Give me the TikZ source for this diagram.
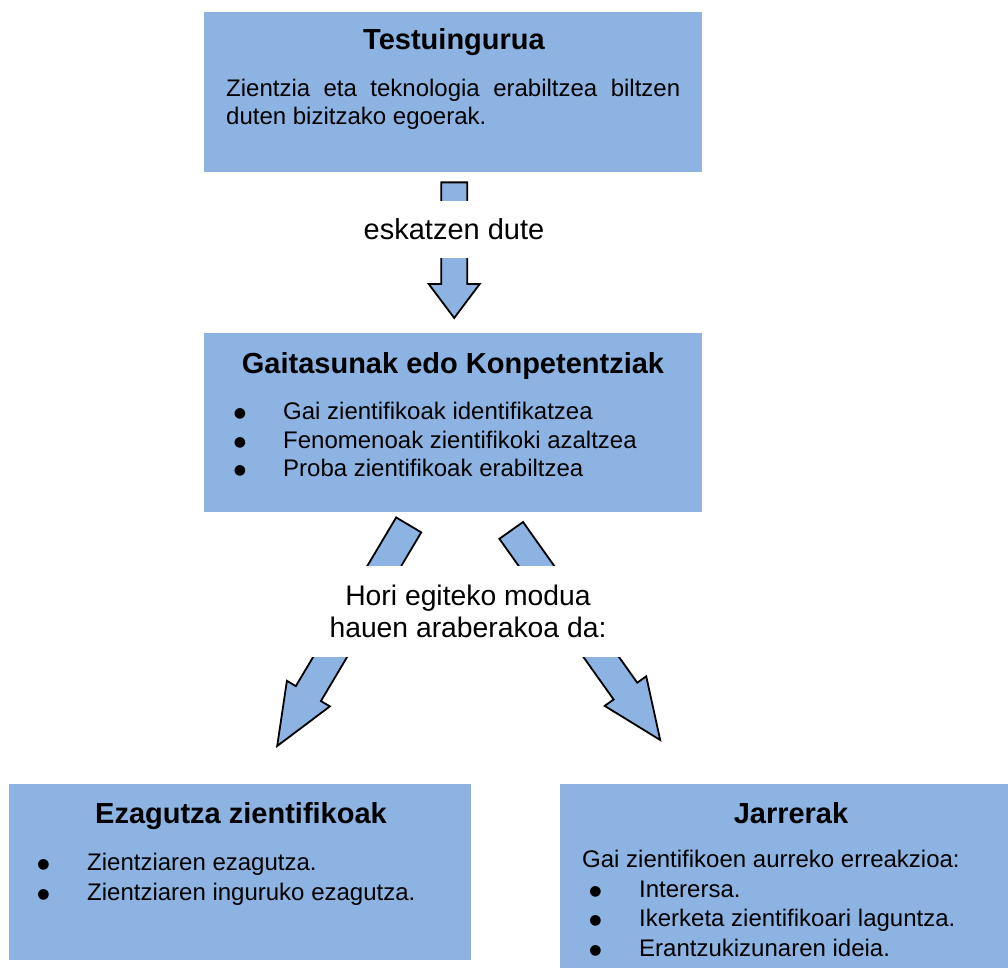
\documentclass[tikz,border=0pt]{standalone}
\usepackage{fontspec}
\setmainfont{Liberation Sans}
\newfontfamily\symfont{DejaVu Sans}
\usetikzlibrary{calc}
\definecolor{boxblue}{HTML}{8DB3E2}
% block arrow: tail, tip, half shaft width, half head width, head length
\newcommand{\blockarrow}[5]{%
  \coordinate (ab) at ($(#2)!#5!(#1)$);
  \draw[arrowshape] ($(#1)!#3!90:(#2)$) -- ($(ab)!#3!-90:(#1)$) -- ($(ab)!#4!-90:(#1)$) -- (#2)
     -- ($(ab)!#4!90:(#1)$) -- ($(ab)!#3!90:(#1)$) -- ($(#1)!#3!-90:(#2)$) -- cycle;}
\newcommand{\bul}{\raisebox{2pt}{●}}
\begin{document}
\begin{tikzpicture}[x=1pt,y=-1pt,
  box/.style={fill=boxblue, draw=none, inner sep=0pt, anchor=north west},
  titletext/.style={font=\fontsize{29}{34}\selectfont\bfseries, inner sep=0pt, anchor=base},
  bodytext/.style={font=\fontsize{24}{28}\selectfont, inner sep=0pt, anchor=base west},
  bulletmark/.style={font=\symfont\fontsize{14}{16}\selectfont, inner sep=0pt, anchor=base},
  labeltext/.style={fill=white, inner sep=0pt, align=center},
  arrowshape/.style={fill=boxblue, draw=black, line width=1.8pt, line join=miter}]
\useasboundingbox (0,0) rectangle (1008,968);

% boxes
\node[box, minimum width=498pt, minimum height=160pt] (ctx) at (204,12) {};
\node[box, minimum width=498pt, minimum height=179pt] (comp) at (204,333) {};
\node[box, minimum width=462pt, minimum height=176pt] (know) at (9,784) {};
\node[box, minimum width=448pt, minimum height=184pt] (att) at (560,784) {};

% top box text
\node[titletext] (ctxT) at (454,50) {Testuingurua};
\node[bodytext] (ctxL1) at (226,97) {\hbox to 454pt{Zientzia\hfill eta\hfill teknologia\hfill erabiltzea\hfill biltzen}};
\node[bodytext] (ctxL2) at (226,124.5) {duten bizitzako egoerak.};

% middle box text
\node[titletext] (compT) at (453,373) {Gaitasunak edo Konpetentziak};
\node[bulletmark] (cb1) at (240,419) {\bul};
\node[bodytext] (c1) at (283,419) {Gai zientifikoak identifikatzea};
\node[bulletmark] (cb2) at (240,448) {\bul};
\node[bodytext] (c2) at (283,448) {Fenomenoak zientifikoki azaltzea};
\node[bulletmark] (cb3) at (240,476.5) {\bul};
\node[bodytext] (c3) at (283,476.5) {Proba zientifikoak erabiltzea};

% bottom left text
\node[titletext] (knowT) at (241,823) {Ezagutza zientifikoak};
\node[bulletmark] (kb1) at (43.5,870) {\bul};
\node[bodytext] (k1) at (87,870) {Zientziaren ezagutza.};
\node[bulletmark] (kb2) at (43.5,900) {\bul};
\node[bodytext] (k2) at (87,900) {Zientziaren inguruko ezagutza.};

% bottom right text
\node[titletext] (attT) at (791,823) {Jarrerak};
\node[bodytext] (a0) at (582,867.7) {Gai zientifikoen aurreko erreakzioa:};
\node[bulletmark] (ab1) at (595.5,897) {\bul};
\node[bodytext] (a1) at (639,897) {Interersa.};
\node[bulletmark] (ab2) at (595.5,926) {\bul};
\node[bodytext] (a2) at (639,926) {Ikerketa zientifikoari laguntza.};
\node[bulletmark] (ab3) at (595.5,956) {\bul};
\node[bodytext] (a3) at (639,956) {Erantzukizunaren ideia.};

% arrows
\coordinate (a1s) at ($(ctx.south)+(1,10)$);
\coordinate (a1e) at ($(comp.north)+(1,-15)$);
\coordinate (a2s) at ($(comp.south)+(-44.5,12.5)$);
\coordinate (a2e) at ($(know.north)+(37,-38)$);
\coordinate (a3s) at ($(comp.south)+(58,18)$);
\coordinate (a3e) at ($(att.north)+(-124,-44)$);
\blockarrow{a1s}{a1e}{13pt}{25.5pt}{34pt}
\blockarrow{a2s}{a2e}{14.6pt}{25pt}{61pt}
\blockarrow{a3s}{a3e}{14.5pt}{25.5pt}{60pt}

% arrow labels (white background interrupts arrows)
\node[labeltext, font=\fontsize{29}{34}\selectfont, minimum width=200pt, minimum height=57pt] (ask) at (454,229.5) {eskatzen dute};
\node[labeltext, font=\fontsize{28.3}{32}\selectfont, minimum width=320pt, minimum height=91pt] (how) at (468,611.5) {Hori egiteko modua\\hauen araberakoa da:};
\end{tikzpicture}
\end{document}
